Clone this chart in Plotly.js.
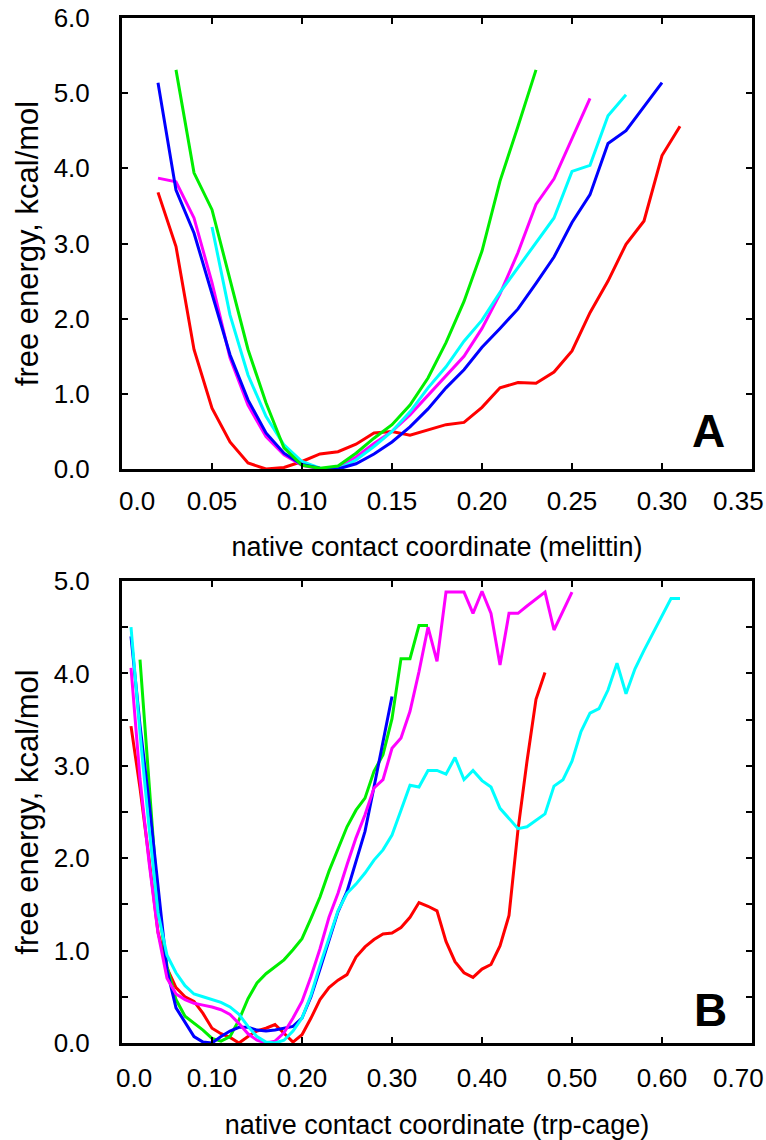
<!DOCTYPE html>
<html>
<head>
<meta charset="utf-8">
<script src="https://cdn.plot.ly/plotly-3.0.1.min.js"></script>
<style>html,body{margin:0;padding:0;background:#fff;}#chart{width:766px;height:1140px;}</style>
</head>
<body>
<div id="chart"></div>
<script>
// ---------- Panel A (melittin) ----------
const aRedX   = [0.02,0.03,0.04,0.05,0.06,0.07,0.08,0.09,0.10,0.11,0.12,0.13,0.14,0.15,0.16,0.17,0.18,0.19,0.20,0.21,0.22,0.23,0.24,0.25,0.26,0.27,0.28,0.29,0.30,0.31];
const aRedY   = [3.68,2.96,1.59,0.81,0.36,0.08,0.00,0.02,0.10,0.20,0.23,0.33,0.48,0.50,0.45,0.52,0.59,0.62,0.82,1.08,1.15,1.14,1.29,1.57,2.08,2.50,2.99,3.30,4.17,4.56];
const aBlueX  = [0.02,0.03,0.04,0.05,0.06,0.07,0.08,0.09,0.10,0.11,0.12,0.13,0.14,0.15,0.16,0.17,0.18,0.19,0.20,0.21,0.22,0.23,0.24,0.25,0.26,0.27,0.28,0.29,0.30];
const aBlueY  = [5.14,3.71,3.14,2.34,1.52,0.92,0.48,0.21,0.06,0.01,0.00,0.07,0.20,0.36,0.56,0.80,1.08,1.32,1.62,1.87,2.13,2.47,2.82,3.28,3.65,4.33,4.50,4.82,5.14];
const aGreenX = [0.03,0.04,0.05,0.06,0.07,0.08,0.09,0.10,0.11,0.12,0.13,0.14,0.15,0.16,0.17,0.18,0.19,0.20,0.21,0.22,0.23];
const aGreenY = [5.31,3.94,3.45,2.52,1.59,0.88,0.28,0.05,0.01,0.04,0.21,0.41,0.59,0.85,1.21,1.68,2.23,2.90,3.83,4.56,5.31];
const aMagX   = [0.02,0.03,0.04,0.05,0.06,0.07,0.08,0.09,0.10,0.11,0.12,0.13,0.14,0.15,0.16,0.17,0.18,0.19,0.20,0.21,0.22,0.23,0.24,0.25,0.26];
const aMagY   = [3.87,3.82,3.34,2.48,1.48,0.85,0.43,0.19,0.05,0.00,0.02,0.16,0.34,0.50,0.72,0.98,1.24,1.50,1.87,2.33,2.88,3.52,3.86,4.39,4.93];
const aCyanX  = [0.05,0.06,0.07,0.08,0.09,0.10,0.11,0.12,0.13,0.14,0.15,0.16,0.17,0.18,0.19,0.20,0.21,0.22,0.23,0.24,0.25,0.26,0.27,0.28];
const aCyanY  = [3.22,2.05,1.25,0.70,0.32,0.10,0.01,0.00,0.12,0.30,0.50,0.76,1.08,1.36,1.70,1.98,2.35,2.68,3.01,3.34,3.96,4.04,4.70,4.98];

// ---------- Panel B (trp-cage) ----------
const bRedX   = [0.01,0.02,0.03,0.04,0.05,0.06,0.07,0.08,0.09,0.10,0.11,0.12,0.13,0.14,0.15,0.16,0.17,0.18,0.19,0.20,0.21,0.22,0.23,0.24,0.25,0.26,0.27,0.28,0.29,0.30,0.31,0.32,0.33,0.34,0.35,0.36,0.37,0.38,0.39,0.40,0.41,0.42,0.43,0.44,0.45,0.46,0.47];
const bRedY   = [3.43,2.76,2.00,1.20,0.81,0.60,0.50,0.45,0.32,0.16,0.10,0.06,0.00,0.07,0.13,0.16,0.20,0.11,0.01,0.09,0.27,0.47,0.60,0.68,0.74,0.93,1.04,1.12,1.18,1.19,1.25,1.36,1.52,1.48,1.43,1.10,0.88,0.76,0.71,0.80,0.85,1.05,1.38,2.31,3.05,3.72,4.01];
const bBlueX  = [0.01,0.02,0.03,0.04,0.05,0.06,0.07,0.08,0.09,0.10,0.11,0.12,0.13,0.14,0.15,0.16,0.17,0.18,0.19,0.20,0.21,0.22,0.23,0.24,0.25,0.26,0.27,0.28,0.29,0.30];
const bBlueY  = [4.40,3.44,2.61,1.69,0.79,0.38,0.22,0.07,0.01,0.00,0.07,0.13,0.17,0.17,0.14,0.13,0.14,0.16,0.18,0.27,0.50,0.80,1.10,1.42,1.64,1.96,2.29,2.77,3.26,3.75];
const bGreenX = [0.02,0.03,0.04,0.05,0.06,0.07,0.08,0.09,0.10,0.11,0.12,0.13,0.14,0.15,0.16,0.17,0.18,0.19,0.20,0.21,0.22,0.23,0.24,0.25,0.26,0.27,0.28,0.29,0.30,0.31,0.32,0.33,0.34];
const bGreenY = [4.15,2.80,1.50,0.83,0.47,0.29,0.22,0.14,0.05,0.02,0.07,0.25,0.48,0.65,0.75,0.83,0.90,1.01,1.13,1.35,1.58,1.86,2.11,2.34,2.52,2.65,2.94,3.12,3.51,4.16,4.16,4.52,4.52];
const bMagX   = [0.01,0.02,0.03,0.04,0.05,0.06,0.07,0.08,0.09,0.10,0.11,0.12,0.13,0.14,0.15,0.16,0.17,0.18,0.19,0.20,0.21,0.22,0.23,0.24,0.25,0.26,0.27,0.28,0.29,0.30,0.31,0.32,0.33,0.34,0.35,0.36,0.37,0.38,0.39,0.40,0.41,0.42,0.43,0.44,0.45,0.46,0.47,0.48,0.49,0.50];
const bMagY   = [4.06,2.86,1.96,1.19,0.70,0.53,0.47,0.43,0.41,0.39,0.36,0.31,0.21,0.10,0.03,0.00,0.02,0.11,0.27,0.45,0.72,1.02,1.36,1.62,1.93,2.22,2.47,2.76,2.85,3.19,3.30,3.59,4.02,4.50,4.13,4.88,4.88,4.88,4.65,4.89,4.65,4.09,4.65,4.65,4.73,4.80,4.88,4.47,4.68,4.88];
const bCyanX  = [0.01,0.02,0.03,0.04,0.05,0.06,0.07,0.08,0.09,0.10,0.11,0.12,0.13,0.14,0.15,0.16,0.17,0.18,0.19,0.20,0.21,0.22,0.23,0.24,0.25,0.26,0.27,0.28,0.29,0.30,0.31,0.32,0.33,0.34,0.35,0.36,0.37,0.38,0.39,0.40,0.41,0.42,0.43,0.44,0.45,0.46,0.47,0.48,0.49,0.50,0.51,0.52,0.53,0.54,0.55,0.56,0.57,0.58,0.59,0.60,0.61,0.62];
const bCyanY  = [4.50,3.35,2.34,1.41,0.95,0.76,0.62,0.53,0.50,0.47,0.44,0.39,0.31,0.18,0.07,0.01,0.00,0.03,0.13,0.27,0.52,0.84,1.13,1.43,1.62,1.72,1.84,1.98,2.09,2.25,2.52,2.79,2.77,2.95,2.95,2.91,3.09,2.85,2.95,2.84,2.77,2.54,2.43,2.32,2.34,2.41,2.48,2.78,2.85,3.05,3.37,3.57,3.62,3.82,4.11,3.78,4.05,4.25,4.44,4.63,4.81,4.81];

// ---------- Axis tick labels ----------
// inner labels are drawn by the axes; the two edge labels are nudged inward like the original
const aTickVals = [0,0.05,0.10,0.15,0.20,0.25,0.30,0.35];
const aTickText = ["0.0","0.05","0.10","0.15","0.20","0.25","0.30","0.35"];
const bTickVals = [0,0.1,0.2,0.3,0.4,0.5,0.6,0.7];
const bTickText = ["0.0","0.10","0.20","0.30","0.40","0.50","0.60","0.70"];

const COLORS = {red:"#ff0000", blue:"#0000ff", green:"#00ee00", magenta:"#ff00ff", cyan:"#00ffff"};
const FONT = "Liberation Sans, Arial, Helvetica, sans-serif";
const TICKSIZE = 26;

function tr(x, y, color, xa, ya) {
  return {x:x, y:y, type:"scatter", mode:"lines", xaxis:xa, yaxis:ya,
          line:{color:color, width:3}, hoverinfo:"skip"};
}

const data = [
  tr(aRedX, aRedY, COLORS.red, "x", "y"),
  tr(aMagX, aMagY, COLORS.magenta, "x", "y"),
  tr(aCyanX, aCyanY, COLORS.cyan, "x", "y"),
  tr(aBlueX, aBlueY, COLORS.blue, "x", "y"),
  tr(aGreenX, aGreenY, COLORS.green, "x", "y"),
  tr(bRedX, bRedY, COLORS.red, "x2", "y2"),
  tr(bGreenX, bGreenY, COLORS.green, "x2", "y2"),
  tr(bBlueX, bBlueY, COLORS.blue, "x2", "y2"),
  tr(bMagX, bMagY, COLORS.magenta, "x2", "y2"),
  tr(bCyanX, bCyanY, COLORS.cyan, "x2", "y2")
];

const axisCommon = {
  showline:true, linecolor:"#000", linewidth:3, mirror:"ticks",
  ticks:"inside", ticklen:6, tickwidth:2, tickcolor:"#000",
  showgrid:false, zeroline:false, fixedrange:true,
  tickfont:{family:FONT, size:TICKSIZE, color:"#000"}
};

function innerText(arr) { return arr.map((t, i) => (i === 0 || i === arr.length - 1) ? "" : t); }

function edgeLabel(text, xa, ya, xval, xshift, yshift) {
  return {text:text, xref:xa, yref:ya, x:xval, y:0, xanchor:"center", yanchor:"middle",
          xshift:xshift, yshift:yshift, showarrow:false,
          font:{family:FONT, size:TICKSIZE, color:"#000"}};
}

const layout = {
  width:766, height:1140,
  margin:{l:122, r:14, t:18, b:97},
  paper_bgcolor:"#fff", plot_bgcolor:"#fff",
  showlegend:false,
  font:{family:FONT, size:26, color:"#000"},
  xaxis: Object.assign({}, axisCommon, {
    domain:[0,1], anchor:"y", range:[0,0.35],
    tickmode:"array", tickvals:aTickVals, ticktext:innerText(aTickText),
    ticklabelstandoff:7,
    title:{text:"native contact coordinate (melittin)", font:{family:FONT, size:27}, standoff:22}
  }),
  yaxis: Object.assign({}, axisCommon, {
    domain:[0.56,1], anchor:"x", range:[0,6], dtick:1, tickformat:".1f",
    ticklabelstandoff:24,
    title:{text:"free energy, kcal/mol", font:{family:FONT, size:31}, standoff:6}
  }),
  xaxis2: Object.assign({}, axisCommon, {
    domain:[0,1], anchor:"y2", range:[0,0.7],
    tickmode:"array", tickvals:bTickVals, ticktext:innerText(bTickText),
    ticklabelstandoff:10,
    title:{text:"native contact coordinate (trp-cage)", font:{family:FONT, size:27}, standoff:32}
  }),
  yaxis2: Object.assign({}, axisCommon, {
    domain:[0,0.4507], anchor:"x2", range:[0,5], dtick:1, tickformat:".1f",
    ticklabelstandoff:24,
    minor:{dtick:0.5, ticks:"inside", ticklen:6, tickwidth:2, tickcolor:"#000"},
    title:{text:"free energy, kcal/mol", font:{family:FONT, size:31}, standoff:6}
  }),
  annotations:[
    edgeLabel(aTickText[0], "x", "y", aTickVals[0], 15, -32),
    edgeLabel(aTickText[aTickText.length-1], "x", "y", aTickVals[aTickVals.length-1], -14, -32),
    edgeLabel(bTickText[0], "x2", "y2", bTickVals[0], 12, -35),
    edgeLabel(bTickText[bTickText.length-1], "x2", "y2", bTickVals[bTickVals.length-1], -14, -35),
    {text:"<b>A</b>", xref:"x", yref:"y", x:0.3256, y:0.50, showarrow:false,
     font:{family:FONT, size:46, color:"#000"}, xanchor:"center", yanchor:"middle"},
    {text:"<b>B</b>", xref:"x2", yref:"y2", x:0.654, y:0.36, showarrow:false,
     font:{family:FONT, size:46, color:"#000"}, xanchor:"center", yanchor:"middle"}
  ]
};

Plotly.newPlot("chart", data, layout, {staticPlot:true, displayModeBar:false});
</script>
</body>
</html>
